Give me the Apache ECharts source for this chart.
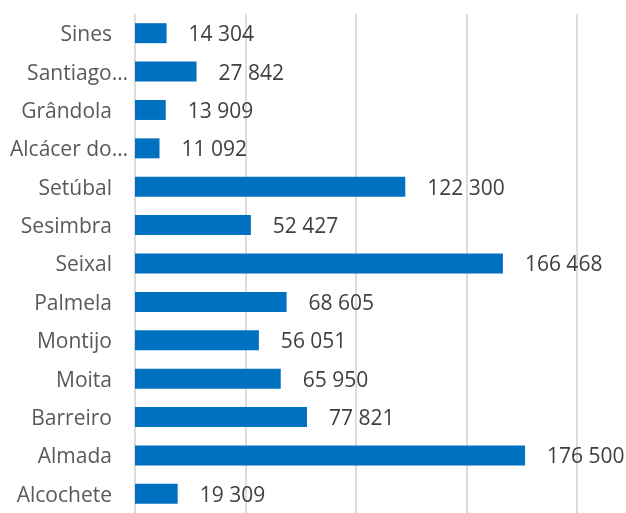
<!DOCTYPE html>
<html>
<head>
<meta charset="utf-8">
<script src="https://cdn.jsdelivr.net/npm/echarts@6/dist/echarts.min.js"></script>
<style>
  html, body { margin: 0; padding: 0; background: #fff; }
  #chart { width: 626px; height: 513px; }
</style>
</head>
<body>
<div id="chart"></div>
<script>
var concelhos = ['Sines', 'Santiago…', 'Grândola', 'Alcácer do…', 'Setúbal', 'Sesimbra', 'Seixal',
    'Palmela', 'Montijo', 'Moita', 'Barreiro', 'Almada', 'Alcochete'];
var populacao = [14304, 27842, 13909, 11092, 122300, 52427, 166468, 68605, 56051, 65950, 77821, 176500, 19309];
var ticksX = [0, 50000, 100000, 150000, 200000];

var chart = echarts.init(document.getElementById('chart'));

function espacos(v) {
    return String(v).replace(/\B(?=(\d{3})+(?!\d))/g, ' ');
}

var option = {
    animation: false,
    textStyle: { fontFamily: 'Open Sans' },
    grid: { left: 135, right: 49, top: 14, bottom: -8, containLabel: false },
    xAxis: {
        type: 'value',
        min: ticksX[0],
        max: ticksX[ticksX.length - 1],
        interval: ticksX[1] - ticksX[0],
        axisLabel: { show: false },
        axisLine: { show: false },
        axisTick: { show: false },
        splitLine: { lineStyle: { color: '#d0d0d0', width: 1.5 } }
    },
    yAxis: {
        type: 'category',
        inverse: true,
        data: concelhos,
        axisLine: { show: false },
        axisTick: { show: false },
        axisLabel: {
            margin: 7,
            fontSize: 21,
            color: '#595959',
            formatter: function (v) {
                return v.indexOf('…') >= 0 ? '{b|' + v + '}' : '{a|' + v + '}';
            },
            rich: {
                a: { fontSize: 21, color: '#595959', padding: [4, 16, 0, 0] },
                b: { fontSize: 21, color: '#595959', padding: [4, 0, 0, 0] }
            }
        }
    },
    series: [{
        type: 'bar',
        data: populacao,
        barWidth: 20,
        itemStyle: { color: '#0070c0' },
        label: {
            show: true,
            position: 'right',
            distance: 22,
            fontSize: 21,
            color: '#404040',
            offset: [0, 2],
            formatter: function (p) { return espacos(p.value); }
        }
    }]
};

chart.setOption(option, true);
</script>
</body>
</html>
